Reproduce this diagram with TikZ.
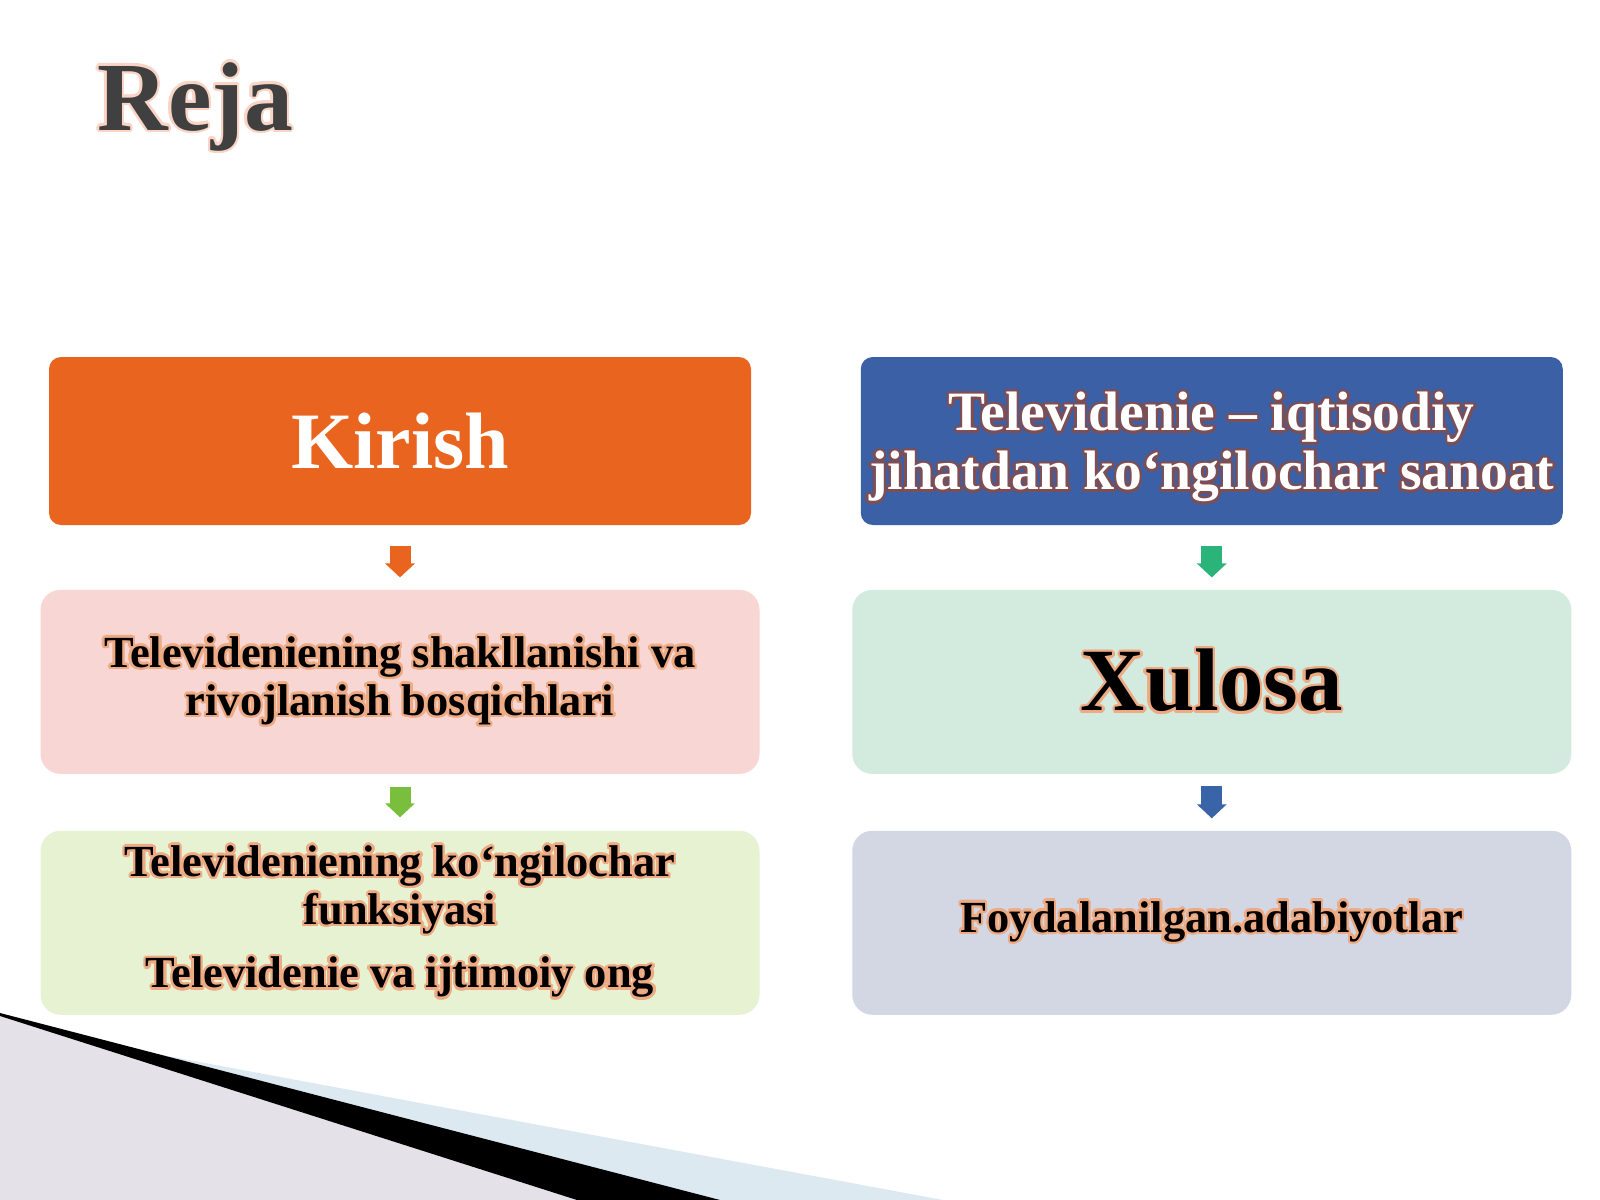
\documentclass[tikz,border=0pt]{standalone}
\usepackage{fontspec}
\setmainfont{Liberation Serif}
\usepackage{tikz}
\usepackage{contour}
\usetikzlibrary{positioning,arrows.meta}
\definecolor{rejagrey}{RGB}{64,64,64}
\definecolor{rejaglow}{RGB}{250,212,196}
\definecolor{textglow}{RGB}{238,170,130}
\definecolor{blueglow}{RGB}{125,78,84}
\definecolor{kirishorange}{RGB}{233,100,30}
\definecolor{iqtisodblue}{RGB}{60,96,165}
\definecolor{shaklpink}{RGB}{247,214,212}
\definecolor{xulosamint}{RGB}{211,234,223}
\definecolor{vazifagreen}{RGB}{231,242,210}
\definecolor{adabiyotgrey}{RGB}{211,215,227}
\definecolor{arrowgreen}{RGB}{122,190,62}
\definecolor{arrowteal}{RGB}{42,180,122}
\definecolor{arrowblue}{RGB}{58,100,168}
\definecolor{cornerblue}{RGB}{220,233,240}
\definecolor{cornergrey}{RGB}{228,226,232}
\newlength\px
\setlength\px{0.45pt}
\contourlength{1.1pt}

\begin{document}
\begin{tikzpicture}[x=1\px, y=-1\px,
	box/.style={rectangle, rounded corners=20\px, minimum width=719\px, minimum height=184\px, inner sep=0pt, align=center, font=\fontsize{20}{21.6}\selectfont\bfseries},
	head/.style={rectangle, rounded corners=12\px, minimum width=702\px, minimum height=168\px, inner sep=0pt, align=center, text=white},
	flow/.style={line width=9.45pt, -{Triangle[length=6.3pt, width=13.05pt]}}]
	\useasboundingbox [fill=white] (0,0) rectangle (1600,1200);

	% corner
	\fill [cornerblue] (0,1025) -- (943,1200) -- (0,1200) -- cycle;
	\fill [cornergrey] (0,1015) -- (577,1200) -- (0,1200) -- cycle;
	\fill [black] (0,1013) -- (720,1200) -- (577,1200) -- (0,1016) -- cycle;

	\node [anchor=base west, inner sep=0pt, text=rejagrey, font=\fontsize{44}{48}\selectfont\bfseries] (reja) at (97,130) {\contour{rejaglow}{Reja}};

	\node [head, fill=kirishorange, font=\fontsize{36}{40}\selectfont\bfseries] (kirish) at (400,441) {Kirish};
	\node [box, fill=shaklpink, below=28.8pt of kirish] (shakl) {\contour{textglow}{Televideniening shakllanishi va}\\ \contour{textglow}{rivojlanish bosqichlari}};
	\node [box, fill=vazifagreen, below=25.2pt of shakl] (vazifa) {\contour{textglow}{Televideniening ko‘ngilochar}\\ \contour{textglow}{funksiyasi}\\[7pt] \contour{textglow}{Televidenie va ijtimoiy ong}};

	\node [head, fill=iqtisodblue, right=49pt of kirish, text height=50.5pt, font=\fontsize{25}{26.5}\selectfont\bfseries] (iqtisod) {\contour{blueglow}{Televidenie – iqtisodiy}\\ \contour{blueglow}{jihatdan ko‘ngilochar sanoat}};
	\node [box, fill=xulosamint, below=28.8pt of iqtisod, font=\fontsize{40}{44}\selectfont\bfseries] (xulosa) {\contour{textglow}{Xulosa}};
	\node [box, fill=adabiyotgrey, below=25.2pt of xulosa] (adabiyot) {\contour{textglow}{Foydalanilgan.adabiyotlar}};

	\draw [flow, kirishorange, shorten <=9.45pt, shorten >=5.4pt] (kirish) -- (shakl);
	\draw [flow, arrowgreen, shorten <=5.85pt, shorten >=5.85pt] (shakl) -- (vazifa);
	\draw [flow, arrowteal, shorten <=9.45pt, shorten >=5.4pt] (iqtisod) -- (xulosa);
	\draw [flow, arrowblue, shorten <=5.4pt, shorten >=5.4pt] (xulosa) -- (adabiyot);
\end{tikzpicture}
\end{document}
